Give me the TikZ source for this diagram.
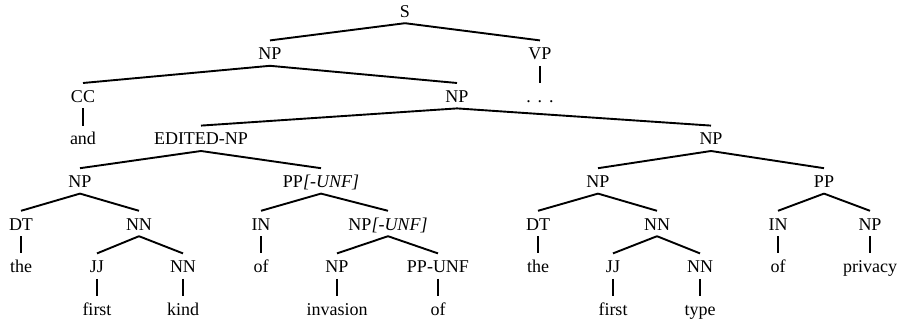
\documentclass[tikz,border=0pt]{standalone}
\usepackage{fontspec}
\setmainfont{Liberation Serif}
\begin{document}
\begin{tikzpicture}[x=1pt,y=1pt,
  lbl/.style={anchor=base,inner xsep=0pt,inner ysep=6pt,text height=13pt,text depth=0pt,
    font=\fontsize{18}{20}\selectfont},
  edge/.style={line width=1.9pt}]
\useasboundingbox (0,0) rectangle (898,-324);
% levels (baselines)
\def\La{-17}\def\Lb{-59.6}\def\Lc{-102.2}\def\Ld{-144.8}
\def\Le{-187.4}\def\Lf{-230}\def\Lg{-272.6}\def\Lh{-315.2}
\node[lbl] (S) at (405,\La) {S};
\node[lbl] (NPa) at (270,\Lb) {NP};
\node[lbl] (VP) at (540,\Lb) {VP};
\node[lbl] (CC) at (83,\Lc) {CC};
\node[lbl] (NPb) at (457,\Lc) {NP};
\node[lbl] (dots) at (540,\Lc) {.\hspace{6.8pt}.\hspace{6.8pt}.};
\node[lbl] (and) at (83,\Ld) {and};
\node[lbl] (ED) at (201,\Ld) {EDITED-NP};
\node[lbl] (NPc) at (711,\Ld) {NP};
\node[lbl] (NPd) at (80,\Le) {NP};
\node[lbl] (PPu) at (321,\Le) {PP\textit{[-UNF]}};
\node[lbl] (NPe) at (598,\Le) {NP};
\node[lbl] (PP) at (824,\Le) {PP};
\node[lbl] (DTa) at (21,\Lf) {DT};
\node[lbl] (NNa) at (139,\Lf) {NN};
\node[lbl] (INa) at (261,\Lf) {IN};
\node[lbl] (NPu) at (388,\Lf) {NP\textit{[-UNF]}};
\node[lbl] (DTb) at (538,\Lf) {DT};
\node[lbl] (NNb) at (657,\Lf) {NN};
\node[lbl] (INb) at (778,\Lf) {IN};
\node[lbl] (NPf) at (870,\Lf) {NP};
\node[lbl] (thea) at (21,\Lg) {the};
\node[lbl] (JJa) at (97,\Lg) {JJ};
\node[lbl] (NNc) at (183,\Lg) {NN};
\node[lbl] (ofa) at (261,\Lg) {of};
\node[lbl] (NPg) at (337,\Lg) {NP};
\node[lbl] (PPUNF) at (438,\Lg) {PP-UNF};
\node[lbl] (theb) at (538,\Lg) {the};
\node[lbl] (JJb) at (613,\Lg) {JJ};
\node[lbl] (NNd) at (700,\Lg) {NN};
\node[lbl] (ofb) at (778,\Lg) {of};
\node[lbl] (priv) at (870,\Lg) {privacy};
\node[lbl] (firsta) at (97,\Lh) {first};
\node[lbl] (kind) at (183,\Lh) {kind};
\node[lbl] (inv) at (337,\Lh) {invasion};
\node[lbl] (ofc) at (438,\Lh) {of};
\node[lbl] (firstb) at (613,\Lh) {first};
\node[lbl] (type) at (700,\Lh) {type};
\foreach \p/\c in {S/NPa,S/VP,VP/dots,NPa/CC,NPa/NPb,CC/and,NPb/ED,NPb/NPc,
  ED/NPd,ED/PPu,NPc/NPe,NPc/PP,NPd/DTa,NPd/NNa,PPu/INa,PPu/NPu,NPe/DTb,NPe/NNb,
  PP/INb,PP/NPf,DTa/thea,NNa/JJa,NNa/NNc,INa/ofa,NPu/NPg,NPu/PPUNF,DTb/theb,
  NNb/JJb,NNb/NNd,INb/ofb,NPf/priv,JJa/firsta,NNc/kind,NPg/inv,PPUNF/ofc,
  JJb/firstb,NNd/type}
  \draw[edge] (\p.south) -- (\c.north);
\end{tikzpicture}
\end{document}
